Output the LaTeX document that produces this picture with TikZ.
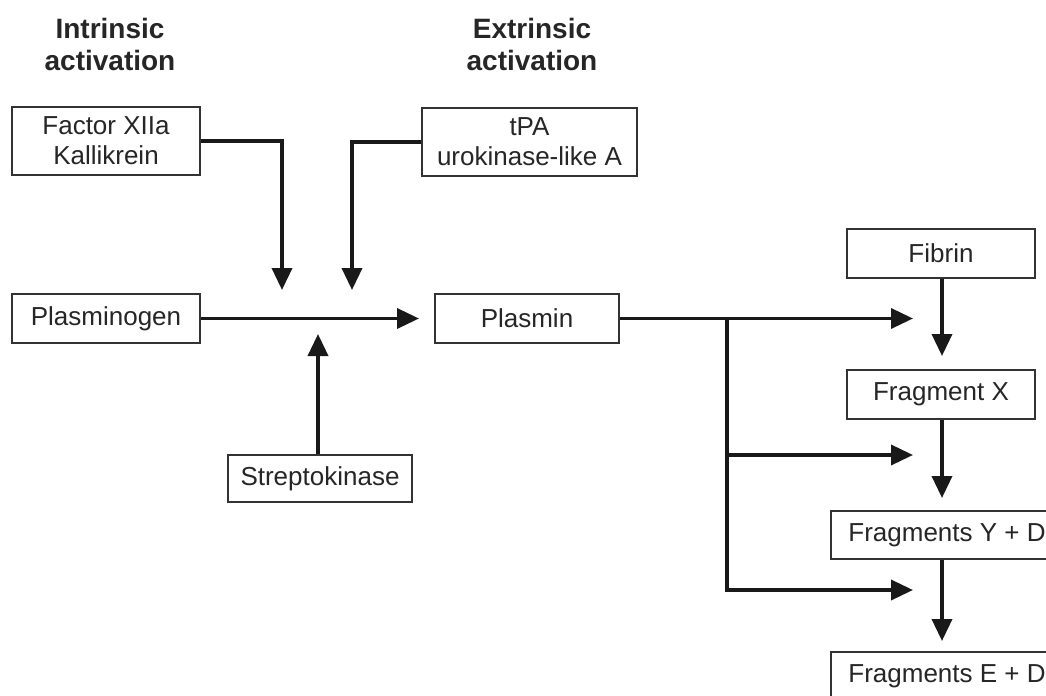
\documentclass[tikz,border=0pt]{standalone}
\usepackage{fontspec}
\setmainfont{Liberation Sans}
\usetikzlibrary{arrows.meta}
\begin{document}
\begin{tikzpicture}[x=0.5pt,y=-0.5pt,
  box/.style={draw=black!80, line width=1pt, fill=white, inner sep=0pt,
    align=center, font=\fontsize{13}{15}\selectfont, text=black!85},
  title/.style={align=center, font=\fontsize{14}{16}\selectfont\bfseries, text=black!85},
  conn/.style={line width=1.8pt, draw=black!90},
  arr/.style={conn, -{Triangle[length=11pt,width=10pt]}}
]
\useasboundingbox (0,0) rectangle (1046,696);
\clip (0,0) rectangle (1046,696);

% column headings
\node[title] (intr) at (110,44) {Intrinsic\\activation};
\node[title] (extr) at (532,44) {Extrinsic\\activation};

% activators
\node[box, minimum width=94pt, minimum height=34pt] (fxii) at (106,141) {Factor XIIa\\Kallikrein};
\node[box, minimum width=107.5pt, minimum height=34pt] (tpa) at (529.5,142) {tPA\\urokinase-like A};
\node[box, minimum width=92pt, minimum height=23.5pt] (strep) at (320,478.5) {Streptokinase};

% zymogen and enzyme
\node[box, minimum width=94pt, minimum height=24.5pt] (pgn) at (106,318.5) {Plasminogen};
\node[box, minimum width=92pt, minimum height=24.5pt] (pln) at (527,318.5) {Plasmin};

% fibrin degradation chain
\node[box, minimum width=94pt, minimum height=24.5pt] (fib) at (941,253.5) {Fibrin};
\node[box, minimum width=94pt, minimum height=24.5pt] (fx) at (941,394.5) {Fragment X};
\node[box, minimum width=116pt, minimum height=24pt] (fyd) at (947,535) {Fragments Y + D};
\node[box, minimum width=116pt, minimum height=24.5pt] (fed) at (947,676.5) {Fragments E + D};

% free ends of the activation arrows
\coordinate (kin) at (282,290);
\coordinate (tin) at (352,290);
\coordinate (sin) at (318,334);

\draw[arr] (fxii.east) -| (kin);
\draw[arr] (tpa.west) -| (tin);
\draw[arr, shorten >=7.5pt] (pgn.east) -- (pln.west);
\draw[arr] (strep.north -| sin) -- (sin);

% plasmin acting on each stage
\coordinate (split) at (727,318.5);
\coordinate (mid) at (727,455);
\coordinate (t1) at (913,318.5);
\coordinate (t2) at (913,455);
\coordinate (t3) at (913,590);
\coordinate (chain) at (942,0);

\draw[arr] (pln.east) -- (t1);
\draw[arr] (split) |- (t3);
\draw[arr] (mid) -- (t2);

\draw[arr, shorten >=6.5pt] (fib.south -| chain) -- (fx.north -| chain);
\draw[arr, shorten >=6pt] (fx.south -| chain) -- (fyd.north -| chain);
\draw[arr, shorten >=5pt] (fyd.south -| chain) -- (fed.north -| chain);
\end{tikzpicture}
\end{document}
